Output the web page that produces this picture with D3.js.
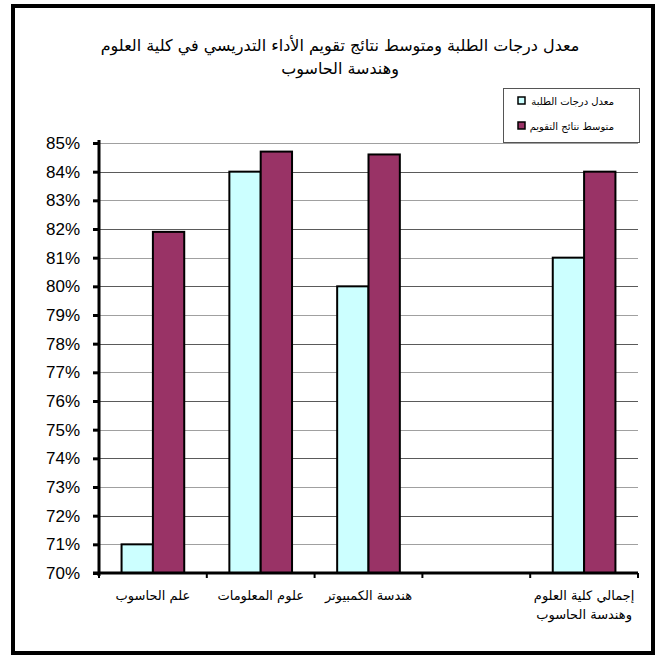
<!DOCTYPE html>
<html>
<head>
<meta charset="utf-8">
<script src="https://cdn.jsdelivr.net/npm/d3@7"></script>
<style>
  body { margin: 0; background: #fff; }
  svg text { font-family: "DejaVu Sans", "Liberation Sans", Arial, sans-serif; }
</style>
</head>
<body>
<div id="chart"></div>
<script>
// data
var categories = ["علم الحاسوب", "علوم المعلومات", "هندسة الكمبيوتر", "", "إجمالي كلية العلوم|وهندسة الحاسوب"];
var studentGrades = [0.71, 0.84, 0.80, null, 0.81];
var evalResults = [0.819, 0.847, 0.846, null, 0.84];
var seriesNames = ["معدل درجات الطلبة", "متوسط نتائج التقويم"];
var seriesColors = ["#CCFFFF", "#993366"];
var yTicks = [0.70, 0.71, 0.72, 0.73, 0.74, 0.75, 0.76, 0.77, 0.78, 0.79, 0.80, 0.81, 0.82, 0.83, 0.84, 0.85];
var titleLines = ["معدل درجات الطلبة ومتوسط نتائج تقويم الأداء التدريسي في كلية العلوم", "وهندسة الحاسوب"];

var width = 657, height = 659;

var svg = d3.select("#chart").append("svg")
    .attr("width", width)
    .attr("height", height);

// outer frame
svg.append("rect")
    .attr("x", 13).attr("y", 6)
    .attr("width", 640).attr("height", 647)
    .attr("fill", "#fff")
    .attr("stroke", "#000")
    .attr("stroke-width", 4);

var x0 = 99, x1 = 638, yTop = 143, yBot = 573;

var x = d3.scaleBand()
    .domain(d3.range(categories.length))
    .range([x0, x1])
    .paddingInner(0)
    .paddingOuter(0);

var xs = d3.scaleBand()
    .domain([0, 1])
    .range([0, x.bandwidth()])
    .paddingInner(0)
    .paddingOuter(0.72);

var y = d3.scaleLinear()
    .domain([0.70, 0.85])
    .range([yBot, yTop]);

// gridlines
svg.append("g")
    .selectAll("line")
    .data(yTicks.slice(1))
    .enter().append("line")
    .attr("x1", x0).attr("x2", x1)
    .attr("y1", function(d) { return Math.round(y(d)) + 0.5; })
    .attr("y2", function(d) { return Math.round(y(d)) + 0.5; })
    .attr("stroke", function(d, i) { return i % 2 ? "#5a5a5a" : "#a0a0a0"; })
    .attr("stroke-width", 1);

// bars
var groups = svg.append("g")
    .selectAll("g")
    .data(categories.map(function(c, i) { return [studentGrades[i], evalResults[i]]; }))
    .enter().append("g")
    .attr("transform", function(d, i) { return "translate(" + x(i) + ",0)"; });

groups.selectAll("rect")
    .data(function(d) { return d.map(function(v, k) { return {v: v, k: k}; }).filter(function(o) { return o.v != null; }); })
    .enter().append("rect")
    .attr("x", function(d) { return xs(d.k); })
    .attr("width", xs.bandwidth())
    .attr("y", function(d) { return y(d.v); })
    .attr("height", function(d) { return yBot - y(d.v); })
    .attr("fill", function(d) { return seriesColors[d.k]; })
    .attr("stroke", "#000")
    .attr("stroke-width", 2);

// y axis
var yAxis = d3.axisLeft(y)
    .tickValues(yTicks)
    .tickFormat(d3.format(".0%"))
    .tickSize(6)
    .tickPadding(13);

var gy = svg.append("g")
    .attr("transform", "translate(" + x0 + ",0)")
    .call(yAxis);
gy.select(".domain").attr("stroke-width", 3).attr("d", "M0," + (yBot + 3) + "V" + (yTop - 3));
gy.selectAll(".tick line").attr("stroke-width", 3);
gy.selectAll("text")
    .style("font-family", "'Liberation Sans', Arial, sans-serif")
    .style("font-size", "17px")
    .attr("fill", "#000");

// x axis
var gx = svg.append("g")
    .attr("transform", "translate(0," + yBot + ")");
gx.append("line")
    .attr("x1", x0 - 6).attr("x2", x1)
    .attr("y1", 0).attr("y2", 0)
    .attr("stroke", "#000").attr("stroke-width", 3);
gx.selectAll(".xt")
    .data(d3.range(categories.length + 1))
    .enter().append("line")
    .attr("class", "xt")
    .attr("x1", function(i) { return x0 + i * x.bandwidth(); })
    .attr("x2", function(i) { return x0 + i * x.bandwidth(); })
    .attr("y1", 0).attr("y2", 5)
    .attr("stroke", "#000").attr("stroke-width", 2);

var labels = gx.selectAll(".xl")
    .data(categories)
    .enter().append("text")
    .attr("class", "xl")
    .attr("direction", "rtl")
    .attr("text-anchor", "middle")
    .attr("x", function(d, i) { return x(i) + x.bandwidth() / 2; })
    .attr("y", 27)
    .style("font-size", "13px")
    .attr("fill", "#000");
labels.each(function(d) {
    var t = d3.select(this);
    d.split("|").forEach(function(line, j) {
        t.append("tspan")
            .attr("x", t.attr("x"))
            .attr("dy", j ? 19 : 0)
            .text(line);
    });
});

// title
svg.append("g")
    .selectAll("text")
    .data(titleLines)
    .enter().append("text")
    .attr("direction", "rtl")
    .attr("text-anchor", "middle")
    .attr("x", 340)
    .attr("y", function(d, i) { return 51 + i * 23; })
    .style("font-size", "16px")
    .attr("fill", "#000")
    .text(function(d) { return d; });

// legend
var lg = svg.append("g");
lg.append("rect")
    .attr("x", 503.5).attr("y", 88.5)
    .attr("width", 136).attr("height", 54)
    .attr("fill", "#fff")
    .attr("stroke", "#555")
    .attr("stroke-width", 1);
var items = lg.selectAll(".li")
    .data(seriesNames)
    .enter().append("g")
    .attr("class", "li")
    .attr("transform", function(d, i) { return "translate(0," + (101 + i * 25) + ")"; });
items.append("rect")
    .attr("x", 518).attr("y", -4)
    .attr("width", 7).attr("height", 7)
    .attr("fill", function(d, i) { return seriesColors[i]; })
    .attr("stroke", "#000")
    .attr("stroke-width", 1.5);
items.append("text")
    .attr("direction", "rtl")
    .attr("text-anchor", "start")
    .attr("x", 614)
    .attr("y", 4)
    .style("font-size", "10px")
    .attr("fill", "#000")
    .text(function(d) { return d; });
</script>
</body>
</html>
